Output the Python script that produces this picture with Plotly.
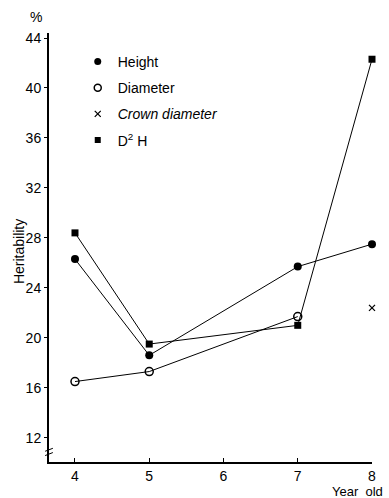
import plotly.graph_objects as go

years = [4, 5, 7, 8]
height = [26.3, 18.6, 25.7, 27.5]
diameter_years = [4, 5, 7]
diameter = [16.5, 17.3, 21.7]
crown_years = [8]
crown = [22.4]
d2h = [28.4, 19.5, 21.0, 42.3]

x_ticks = [4, 5, 6, 7, 8]
y_ticks = [12, 16, 20, 24, 28, 32, 36, 40, 44]

FONT = "Liberation Sans"
fig = go.Figure()

line = dict(color="black", width=1)
fig.add_trace(go.Scatter(x=years, y=height, mode="lines+markers", line=line,
                         marker=dict(symbol="circle", size=8, color="black"),
                         showlegend=False, cliponaxis=False))
fig.add_trace(go.Scatter(x=diameter_years, y=diameter, mode="lines+markers", line=line,
                         marker=dict(symbol="circle-open", size=8, color="black", line=dict(width=1.5)),
                         showlegend=False, cliponaxis=False))
fig.add_trace(go.Scatter(x=years, y=d2h, mode="lines+markers", line=line,
                         marker=dict(symbol="square", size=7, color="black"),
                         showlegend=False, cliponaxis=False))
fig.add_trace(go.Scatter(x=crown_years, y=crown, mode="markers",
                         marker=dict(symbol="x-thin", size=6, color="black", line=dict(width=1.3, color="black")),
                         showlegend=False, cliponaxis=False))

# legend entries (markers only)
leg = [("Height", dict(symbol="circle", size=7, color="black")),
       ("Diameter", dict(symbol="circle-open", size=7, color="black", line=dict(width=1.5))),
       ("<i>Crown diameter</i>", dict(symbol="x-thin", size=6, color="black", line=dict(width=1.3, color="black"))),
       ("D<sup>2</sup> H", dict(symbol="square", size=6, color="black"))]
for i, (name, mk) in enumerate(leg):
    fig.add_trace(go.Scatter(x=[None], y=[None], mode="markers", name=name, marker=mk,
                             legendgroup=f"g{i}", showlegend=True))

fig.update_layout(
    width=389, height=498,
    margin=dict(l=49, r=17, t=33, b=36),
    paper_bgcolor="white", plot_bgcolor="white",
    font=dict(family=FONT, size=14, color="black"),
    showlegend=True,
    legend=dict(x=0.089, y=0.97, xanchor="left", yanchor="top", bgcolor="rgba(0,0,0,0)",
                font=dict(family=FONT, size=14), tracegroupgap=5, itemwidth=30),
    xaxis=dict(range=[3.65, 8.0], tickvals=x_ticks, showgrid=False, zeroline=False,
               showline=True, linecolor="black", linewidth=2, ticks="inside", ticklen=4,
               tickcolor="black", tickfont=dict(size=14), ticklabelstandoff=0),
    yaxis=dict(range=[10.06, 44.4], tickvals=y_ticks, showgrid=False, zeroline=False,
               showline=True, linecolor="black", linewidth=2, ticks="outside", ticklen=3,
               tickcolor="black", tickfont=dict(size=14), ticklabelstandoff=0),
    annotations=[
        dict(text="%", x=-0.04, y=1.015, xref="paper", yref="paper", xanchor="center",
             yanchor="bottom", showarrow=False, font=dict(size=14)),
        dict(text="Heritability", x=-0.095, y=0.49, xref="paper", yref="paper", textangle=-90,
             xanchor="center", yanchor="middle", showarrow=False, font=dict(size=14)),
        dict(text="Year  old", x=1.04, y=-0.069, xref="paper", yref="paper", xanchor="right",
             yanchor="middle", showarrow=False, font=dict(size=13)),
    ],
    shapes=[
        dict(type="line", xref="paper", yref="paper", x0=-0.012, x1=0.012, y0=0.015, y1=0.022,
             line=dict(color="black", width=1)),
        dict(type="line", xref="paper", yref="paper", x0=-0.012, x1=0.012, y0=0.025, y1=0.032,
             line=dict(color="black", width=1)),
    ],
)

fig.write_html("out.html")
